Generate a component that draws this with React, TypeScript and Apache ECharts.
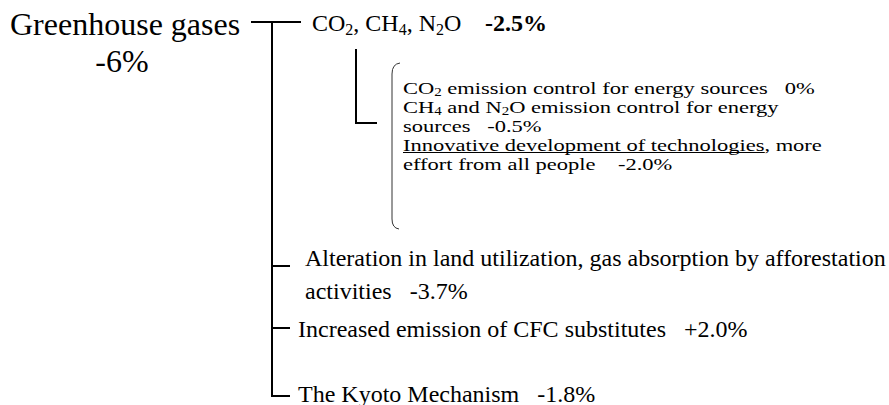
import React, { useEffect, useRef } from "react";
import * as echarts from "echarts";

// ---- content ----
const rootLabel = "Greenhouse gases";
const rootValue = "-6%";
const branchLabels = [
  "CO{s|2}, CH{s|4}, N{s|2}O",
  "Alteration in land utilization, gas absorption by afforestation",
  "Increased emission of CFC substitutes",
  "The Kyoto Mechanism",
];
const branchSecondLine = ["", "activities", "", ""];
const branchValues = ["-2.5%", "-3.7%", "+2.0%", "-1.8%"];
const measureValues = ["0%", "-0.5%", "-2.0%"];
const underlined = "Innovative development of technologies";

const SP3 = "\u00A0\u00A0\u00A0";
const SP4 = "\u00A0\u00A0\u00A0\u00A0";
const measureLines = [
  "CO{t|2} emission control for energy sources" + SP3 + measureValues[0],
  "CH{t|4} and N{t|2}O emission control for energy",
  "sources" + SP3 + measureValues[1],
  underlined + ", more",
  "effort from all people" + SP4 + measureValues[2],
];

const FONT = '"Liberation Serif", "Times New Roman", serif';

export default function App() {
  const ref = useRef<HTMLDivElement>(null);
  useEffect(() => {
    document.body.style.margin = "0";
    const chart = echarts.init(ref.current!, null, { renderer: "svg" });
    echarts.graphic.registerShape(
      "bracket",
      echarts.graphic.extendPath(
        "M400,63 Q392,64 392,74 L392,219 Q392,228 399,229",
        {}
      )
    );

    const ctx = document.createElement("canvas").getContext("2d")!;
    const bSize = 22.5;
    ctx.font = `${bSize}px ${FONT}`;
    const uw = ctx.measureText(underlined).width;

    const txt = (x: number, y: number, text: string, size: number, extra: any = {}, el: any = {}) => ({
      type: "text",
      x,
      y,
      ...el,
      style: {
        text,
        fontFamily: FONT,
        fontSize: size,
        fill: "#000",
        align: "left",
        verticalAlign: "middle",
        textAlign: "left",
        textVerticalAlign: "middle",
        lineHeight: size + 4,
        rich: {
          s: { fontSize: 16, lineHeight: 14, padding: [13, 0, 0, 0], fontFamily: FONT, fill: "#000" },
          t: { fontSize: 15, lineHeight: 13, padding: [12, 0, 0, 0], fontFamily: FONT, fill: "#000" },
        },
        ...extra,
      },
    });
    const ln = (pts: number[][], w = 2) => ({
      type: "polyline",
      shape: { points: pts },
      style: { stroke: "#000", lineWidth: w, fill: null, lineJoin: "miter" },
    });

    const bBase = [93.5, 112.5, 131.5, 150.5, 169.5];
    const sy = 0.78;

    const elements: any[] = [
      txt(10, 24, rootLabel, 32),
      txt(122, 61, rootValue, 32, { align: "center", textAlign: "center" }),
      ln([[251, 22], [301, 22]]),
      ln([[272, 22], [272, 396], [290, 396]]),
      ln([[272, 266], [290, 266]]),
      ln([[272, 328], [290, 328]]),
      txt(312, 22.5, branchLabels[0], 24),
      txt(485, 22.5, branchValues[0], 24, { fontWeight: "bold" }),
      ln([[356, 49], [356, 123], [377, 123]]),
      {
        type: "bracket",
        x: 0,
        y: 0,
        style: { stroke: "#333", lineWidth: 1, fill: null },
      },
      ...measureLines.map((l, i) =>
        txt(403, bBase[i] - 7.6 * sy, l, bSize, {}, { scaleY: sy })
      ),
      ln([[403, bBase[3] + 2], [403 + uw, bBase[3] + 2]], 1),
      txt(305, 258, branchLabels[1], 24),
      txt(305, 291, branchSecondLine[1] + SP3 + branchValues[1], 24),
      txt(298, 329, branchLabels[2] + SP3 + branchValues[2], 24),
      txt(298, 394, branchLabels[3] + SP3 + branchValues[3], 24),
    ];

    chart.setOption({ animation: false, graphic: { elements } });
    return () => chart.dispose();
  }, []);
  return <div ref={ref} style={{ width: 889, height: 405 }} />;
}
